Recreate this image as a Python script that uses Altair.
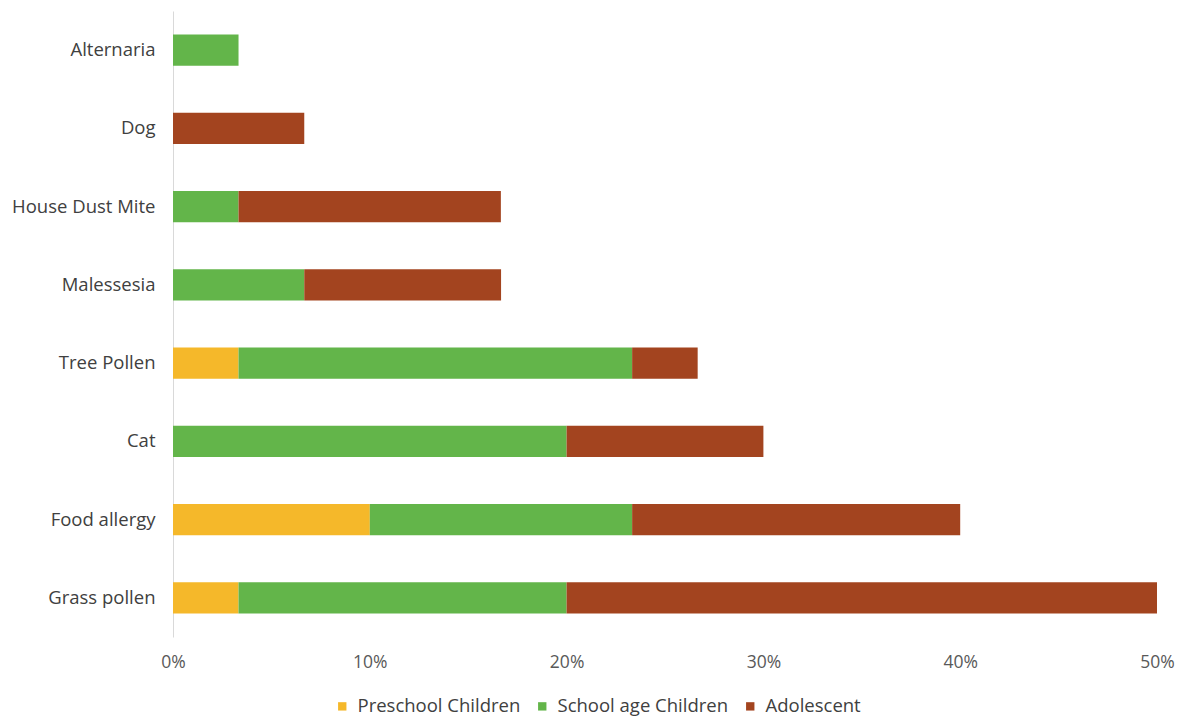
import altair as alt
import pandas as pd

categories = ["Alternaria", "Dog", "House Dust Mite", "Malessesia", "Tree Pollen",
              "Cat", "Food allergy", "Grass pollen"]
groups = ["Preschool Children", "School age Children", "Adolescent"]
preschool = [0, 0, 0, 0, 3.33, 0, 10.0, 3.33]
school_age = [3.33, 0, 3.33, 6.67, 20.0, 20.0, 13.33, 16.67]
adolescent = [0, 6.67, 13.33, 10.0, 3.33, 10.0, 16.67, 30.0]
colors = ["#F5B82A", "#63B54A", "#A3441F"]

rows = []
for gi, (g, vals) in enumerate(zip(groups, [preschool, school_age, adolescent])):
    for c, v in zip(categories, vals):
        rows.append({"Allergen": c, "Group": g, "Value": v / 100.0, "Order": gi})
df = pd.DataFrame(rows)

FONT = "Open Sans"

chart = alt.Chart(df).mark_bar().encode(
    y=alt.Y("Allergen:N", sort=categories, title=None,
            scale=alt.Scale(paddingInner=0.6, paddingOuter=0.3),
            axis=alt.Axis(domainColor="#d9d9d9", ticks=False, labelPadding=18,
                          labelFontSize=18.5, labelColor="#404040", labelFont=FONT)),
    x=alt.X("Value:Q", stack="zero", title=None,
            scale=alt.Scale(domain=[0, 0.5], nice=False),
            axis=alt.Axis(values=[0, 0.1, 0.2, 0.3, 0.4, 0.5], format=".0%", grid=False,
                          domain=False, ticks=False, labelPadding=16, labelFontSize=17.5,
                          labelAlign="center", labelColor="#595959", labelFont=FONT)),
    color=alt.Color("Group:N", sort=groups, title=None,
                    scale=alt.Scale(domain=groups, range=colors),
                    legend=alt.Legend(orient="none", direction="horizontal",
                                      legendX=160, legendY=686, symbolType="square",
                                      symbolSize=70, labelFontSize=18.5, labelColor="#404040",
                                      labelFont=FONT, columnPadding=12, labelOffset=6,
                                      labelLimit=300)),
    order=alt.Order("Order:Q", sort="ascending"),
).properties(
    width=984, height=626,
    background="white",
    padding={"left": 173, "top": 11, "right": 29, "bottom": 82},
    autosize=alt.AutoSizeParams(type="none"),
).configure_view(stroke=None)

chart.save("out.html", embed_options={"renderer": "svg", "actions": False})
